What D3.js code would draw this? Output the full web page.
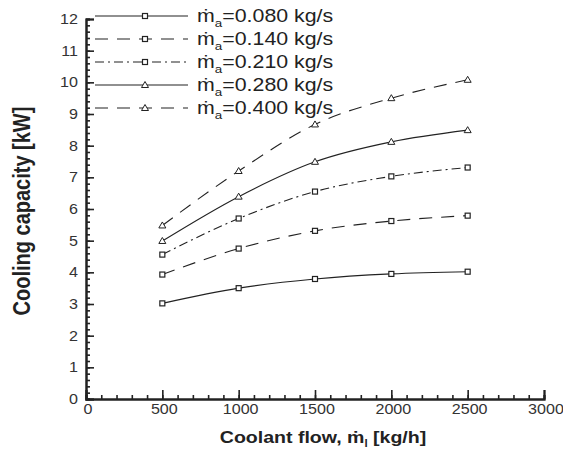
<!DOCTYPE html>
<html>
<head>
<meta charset="utf-8">
<script src="https://cdn.jsdelivr.net/npm/d3@7"></script>
<style>
  body { margin: 0; background: #fff; }
  text { font-family: "Liberation Sans", Arial, sans-serif; }
</style>
</head>
<body>
<script>
// coolant flow [kg/h]
var flows = [500, 1000, 1500, 2000, 2500];
var airLabels = ["0.080", "0.140", "0.210", "0.280", "0.400"];
// cooling capacity [kW], one array per air mass flow
var cap080 = [3.02, 3.50, 3.79, 3.95, 4.02];
var cap140 = [3.93, 4.75, 5.31, 5.62, 5.79];
var cap210 = [4.56, 5.70, 6.55, 7.03, 7.31];
var cap280 = [4.99, 6.39, 7.49, 8.12, 8.49];
var cap400 = [5.48, 7.20, 8.67, 9.50, 10.08];
var xTicks = [0, 500, 1000, 1500, 2000, 2500, 3000];
var yTicks = [0, 1, 2, 3, 4, 5, 6, 7, 8, 9, 10, 11, 12];

var series = [
  {lab: airLabels[0], vals: cap080, dash: null, mark: "square"},
  {lab: airLabels[1], vals: cap140, dash: "13,9", mark: "square"},
  {lab: airLabels[2], vals: cap210, dash: "9,4,2,4", mark: "square"},
  {lab: airLabels[3], vals: cap280, dash: null, mark: "triangle"},
  {lab: airLabels[4], vals: cap400, dash: "13,9", mark: "triangle"}
];

var width = 563, height = 450;
var x0 = 86, x1 = 544, y0 = 399, y1 = 19;
var sx = 1.15; // the source figure is a bit wide, stretch text to match

var svg = d3.select("body").append("svg")
    .attr("width", width)
    .attr("height", height);

var x = d3.scaleLinear().domain([0, 3000]).range([x0, x1]);
var y = d3.scaleLinear().domain([0, 12]).range([y0, y1]);

var ink = "#222";

function tr(px, py, k) {
  return "translate(" + px + "," + py + ") scale(" + (k || sx) + ",1)";
}

// axes with inward ticks (minor first, then major)
var xMinor = d3.axisTop(x).tickValues(d3.range(0, 3001, 100)).tickSize(4).tickFormat("");
var xMajor = d3.axisTop(x).tickValues(xTicks).tickSize(9).tickFormat("");
var yMinor = d3.axisRight(y).tickValues(d3.range(0, 12.01, 0.2)).tickSize(4).tickFormat("");
var yMajor = d3.axisRight(y).tickValues(yTicks).tickSize(8).tickFormat("");

[xMinor, xMajor].forEach(function(a) {
  svg.append("g").attr("transform", "translate(0," + y0 + ")").call(a);
});
[yMinor, yMajor].forEach(function(a) {
  svg.append("g").attr("transform", "translate(" + x0 + ",0)").call(a);
});
svg.selectAll(".domain").attr("stroke", ink).attr("stroke-width", 2);
svg.selectAll(".tick line").attr("stroke", ink).attr("stroke-width", 1.6);

// tick labels
svg.selectAll(".xlab").data(xTicks).enter().append("text")
    .attr("transform", function(d) { return tr(x(d) + 2, y0 + 15); })
    .attr("text-anchor", "middle")
    .attr("font-size", 14)
    .attr("fill", "#333")
    .text(function(d) { return d; });

svg.selectAll(".ylab").data(yTicks).enter().append("text")
    .attr("transform", function(d) { return tr(x0 - 8, y(d) + 5); })
    .attr("text-anchor", "end")
    .attr("font-size", 14)
    .attr("fill", "#333")
    .text(function(d) { return d; });

// axis titles
var xt = svg.append("text")
    .attr("transform", tr(323, 443))
    .attr("text-anchor", "middle")
    .attr("font-size", 17).attr("font-weight", "bold").attr("fill", ink);
xt.append("tspan").text("Coolant flow, \u1E41");
xt.append("tspan").attr("font-size", 10).attr("dy", 4).text("l");
xt.append("tspan").attr("dy", -4).text(" [kg/h]");

svg.append("text")
    .attr("transform", "translate(30,211) scale(1.2,1) rotate(-90)")
    .attr("text-anchor", "middle")
    .attr("font-size", 20).attr("font-weight", "bold").attr("fill", ink)
    .text("Cooling capacity [kW]");

// curves
var line = d3.line()
    .x(function(d, i) { return x(flows[i]); })
    .y(function(d) { return y(d); })
    .curve(d3.curveMonotoneX);

function marker(g, type, cx, cy) {
  if (type === "square") {
    g.append("rect").attr("x", cx - 2.5).attr("y", cy - 2.5)
      .attr("width", 5).attr("height", 5)
      .attr("fill", "#fff").attr("stroke", ink).attr("stroke-width", 1.2);
  } else {
    g.append("path")
      .attr("d", "M" + cx + "," + (cy - 3.5) + "L" + (cx + 3.5) + "," + (cy + 2.5) + "L" + (cx - 3.5) + "," + (cy + 2.5) + "Z")
      .attr("fill", "#fff").attr("stroke", ink).attr("stroke-width", 1);
  }
}

series.forEach(function(s) {
  var g = svg.append("g");
  g.append("path")
    .attr("d", line(s.vals))
    .attr("fill", "none")
    .attr("stroke", ink)
    .attr("stroke-width", 1.1)
    .attr("stroke-dasharray", s.dash);
  s.vals.forEach(function(v, i) { marker(g, s.mark, x(flows[i]), y(v)); });
});

// legend
var legY = d3.scalePoint().domain(airLabels).range([16, 108]);
series.forEach(function(s) {
  var ly = legY(s.lab);
  var g = svg.append("g");
  g.append("line")
    .attr("x1", 95).attr("x2", 188).attr("y1", ly).attr("y2", ly)
    .attr("stroke", ink).attr("stroke-width", 1.2)
    .attr("stroke-dasharray", s.dash);
  marker(g, s.mark, 145, ly);
  var t = g.append("text")
    .attr("transform", tr(197, ly + 6, 1.22))
    .attr("font-size", 17.5).attr("fill", ink);
  t.append("tspan").text("\u1E41");
  t.append("tspan").attr("font-size", 11).attr("dy", 5).text("a");
  t.append("tspan").attr("dy", -5).text("=" + s.lab + " kg/s");
});
</script>
</body>
</html>
